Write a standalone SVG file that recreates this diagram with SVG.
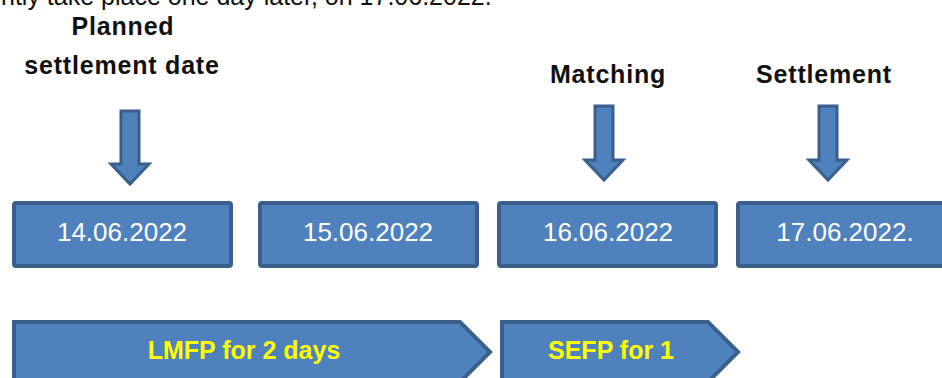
<svg xmlns="http://www.w3.org/2000/svg" width="942" height="378" viewBox="0 0 942 378">
<style>
  .box { fill: #4F81BD; stroke: #3A5F8B; stroke-width: 4; }
  .arr { fill: #4F81BD; stroke: #3A5F8B; stroke-width: 3; stroke-linejoin: miter; }
  .date { font-family: "Liberation Sans", Arial, sans-serif; font-size: 26px; fill: #FFFFFF; text-anchor: middle; }
  .lbl { font-family: "Liberation Sans", Arial, sans-serif; font-size: 25px; font-weight: bold; fill: #111111; text-anchor: middle; letter-spacing: 0.8px; }
  .chev { font-family: "Liberation Sans", Arial, sans-serif; font-size: 25px; font-weight: bold; fill: #FFFF00; text-anchor: middle; }
  .top { font-family: "Liberation Sans", Arial, sans-serif; font-size: 25px; fill: #111111; }
</style>
<rect width="942" height="378" fill="#FFFFFF"/>
<text class="top" x="1" y="5">ntly take place one day later, on 17.06.2022.</text>

<g id="label-planned">
  <text class="lbl" x="123" y="35">Planned</text>
  <text class="lbl" x="122" y="74">settlement date</text>
</g>
<g id="label-matching"><text class="lbl" x="608" y="83">Matching</text></g>
<g id="label-settlement"><text class="lbl" x="824" y="83">Settlement</text></g>

<g id="connectors">
  <path class="arr" d="M121,111 H139 V164 H149 L130,184 L111,164 H121 Z"/>
  <path class="arr" d="M595,106 H613 V160 H623 L604,180 L585,160 H595 Z"/>
  <path class="arr" d="M819,106 H837 V160 H847 L828,180 L809,160 H819 Z"/>
</g>

<g id="d14">
  <rect class="box" x="14" y="203" width="217" height="63" rx="2"/>
  <text class="date" x="122" y="241">14.06.2022</text>
</g>
<g id="d15">
  <rect class="box" x="260" y="203" width="217" height="63" rx="2"/>
  <text class="date" x="368" y="241">15.06.2022</text>
</g>
<g id="d16">
  <rect class="box" x="499" y="203" width="217" height="63" rx="2"/>
  <text class="date" x="608" y="241">16.06.2022</text>
</g>
<g id="d17">
  <rect class="box" x="738" y="203" width="220" height="63" rx="2"/>
  <text class="date" x="845" y="241">17.06.2022.</text>
</g>

<g id="lmfp">
  <path class="box" d="M14,322 H460 L490,352 L460,382 H14 Z"/>
  <text class="chev" x="244" y="359">LMFP for 2 days</text>
</g>
<g id="sefp">
  <path class="box" d="M502,322 H708 L738,352 L708,382 H502 Z"/>
  <text class="chev" x="611" y="359">SEFP for 1</text>
</g>
</svg>
